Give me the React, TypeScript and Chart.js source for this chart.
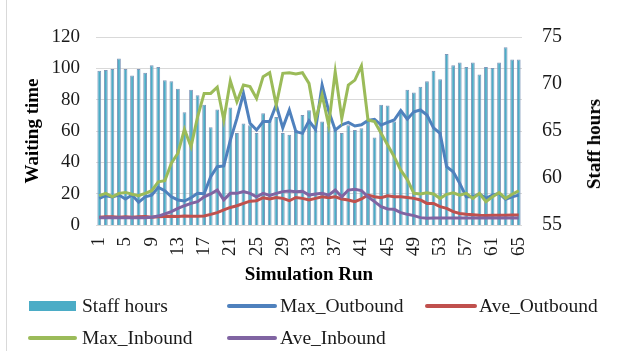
import React, { useEffect, useRef } from 'react';
import { Chart, registerables } from 'chart.js';

Chart.register(...registerables);

const runs = [
  '1', '2', '3', '4', '5', '6', '7', '8', '9', '10', '11', '12', '13', '14', '15', '16', '17', '18', '19', '20',
  '21', '22', '23', '24', '25', '26', '27', '28', '29', '30', '31', '32', '33', '34', '35', '36', '37', '38', '39', '40',
  '41', '42', '43', '44', '45', '46', '47', '48', '49', '50', '51', '52', '53', '54', '55', '56', '57', '58', '59', '60',
  '61', '62', '63', '64', '65',
];

const staffHours = [
  71.4, 71.5, 71.6, 72.7, 71.6, 70.9, 71.6, 71.2, 72.0, 71.8,
  70.4, 70.3, 69.5, 67.0, 69.4, 68.8, 67.8, 65.4, 67.3, 66.7,
  67.5, 64.8, 65.8, 65.6, 64.8, 66.9, 66.1, 66.5, 64.8, 64.6,
  65.1, 66.7, 67.2, 65.1, 66.0, 65.5, 65.1, 64.8, 65.6, 65.1,
  65.3, 66.2, 64.3, 67.8, 67.7, 66.0, 67.2, 69.4, 69.1, 69.7,
  70.3, 71.4, 70.5, 73.2, 72.0, 72.3, 71.8, 72.3, 71.0, 71.8,
  71.7, 72.3, 73.9, 72.6, 72.6,
];

const maxOutbound = [
  17, 18.7, 17.9, 19.1, 16.6, 19.1, 14.5, 18, 19.1, 24,
  21.9, 18, 16, 15.3, 17.4, 20.2, 20, 30.8, 37.2, 37.7,
  54.2, 68, 84, 64.9, 60.6, 66, 66, 76.6, 62, 73.4,
  59.6, 58.5, 66.5, 61, 89.3, 72.8, 60.6, 64, 65.5, 63.2,
  64, 66.7, 67.5, 63.8, 65.5, 67, 73, 67.5, 72.3, 73.4,
  70.2, 62, 58.5, 37.2, 34, 26.6, 18, 18, 19.8, 17,
  19.1, 20.2, 16.4, 18, 19.1,
];

const aveOutbound = [
  5, 5.3, 5.2, 5, 5.3, 5, 5.2, 5.4, 5, 5.3,
  5.5, 5.6, 5.4, 5.8, 5.6, 5.6, 5.8, 6.8, 7.9, 9.6,
  11.2, 12.3, 13.8, 15.2, 15.5, 17.4, 16.6, 17.6, 17, 15.5,
  17.6, 17, 16, 17, 18, 17.4, 18, 16.6, 16, 14.9,
  16.6, 19.1, 18, 17.4, 18.7, 18, 18, 17.6, 17, 16,
  13.8, 13.8, 11.7, 10.6, 8.5, 7.4, 6.8, 6.6, 6.2, 6,
  6.2, 6.2, 6.2, 6.4, 6.4,
];

const maxInbound = [
  18.7, 20.2, 18, 20.2, 20.8, 19.6, 18.7, 20.2, 21.9, 27.6,
  28.3, 39.4, 45.8, 61, 50, 69, 84, 84, 88, 67,
  92, 78.7, 89.3, 88.3, 80.8, 94.7, 97.2, 76.6, 96.8, 97.2,
  96.4, 97.2, 90.4, 67, 83, 63.8, 97.8, 68, 89.3, 92.5,
  101.5, 67, 66, 58.5, 51, 43.6, 35, 29, 20.2, 19.8,
  20.6, 19.8, 17, 19.6, 20.6, 19.1, 20.2, 17, 20.2, 14.9,
  18, 20.6, 17, 19.6, 21.9,
];

const aveInbound = [
  4.7, 4.7, 4.7, 4.7, 4.7, 4.7, 4.7, 4.7, 4.9, 5.7,
  7, 8.5, 10.6, 12.3, 13.8, 14.9, 18, 19.8, 22.3, 16,
  20.2, 20.2, 21.3, 20.2, 18, 20.2, 18.9, 20.2, 21.3, 21.7,
  21.3, 21.6, 19.1, 19.8, 20.2, 19.1, 22.3, 18, 22.3, 22.8,
  22, 18, 14.9, 11.7, 10.2, 10, 7.9, 6.8, 6, 4.7,
  4.3, 4.4, 4.5, 4.4, 4.5, 4.5, 4.4, 4.5, 4.5, 4.4,
  4.5, 4.5, 4.4, 4.5, 4.5,
];

const leftTicks = { min: 0, max: 120, step: 20 };
const rightTicks = { min: 55, max: 75, step: 5 };

const seriesNames = ['Staff hours', 'Max_Outbound', 'Ave_Outbound', 'Max_Inbound', 'Ave_Inbound'];
const seriesColors = ['#4BACC6', '#4F81BD', '#C0504D', '#9BBB59', '#8064A2'];

const FONT = "'Liberation Serif', 'Times New Roman', serif";
const TEXT = '#1a1a1a';

const legendItems = [
  { i: 0, x: 29, y: 306, lineW: 47, textX: 82 },
  { i: 1, x: 227, y: 306, lineW: 50, textX: 280 },
  { i: 2, x: 425, y: 306, lineW: 52, textX: 479 },
  { i: 3, x: 28, y: 338, lineW: 49, textX: 82 },
  { i: 4, x: 227, y: 338, lineW: 50, textX: 280 },
];

export default function App() {
  const ref = useRef<HTMLCanvasElement>(null);

  useEffect(() => {
    if (!ref.current) return;
    const lineDs = (idx: number, data: number[], order: number) => ({
      type: 'line' as const,
      label: seriesNames[idx],
      data,
      yAxisID: 'y',
      borderColor: seriesColors[idx],
      backgroundColor: seriesColors[idx],
      borderWidth: 3,
      pointRadius: 0,
      tension: 0,
      order,
    });
    const chart = new Chart(ref.current, {
      type: 'bar',
      data: {
        labels: runs,
        datasets: [
          {
            type: 'bar',
            label: seriesNames[0],
            data: staffHours,
            yAxisID: 'y1',
            backgroundColor: seriesColors[0],
            borderColor: '#7F97B9',
            borderWidth: 1,
            barPercentage: 0.58,
            categoryPercentage: 1,
            order: 5,
          } as any,
          lineDs(1, maxOutbound, 4),
          lineDs(2, aveOutbound, 3),
          lineDs(3, maxInbound, 2),
          lineDs(4, aveInbound, 1),
        ],
      },
      options: {
        responsive: false,
        animation: false,
        layout: { padding: { top: 37, left: 0, right: 0, bottom: 64 } },
        plugins: { legend: { display: false }, tooltip: { enabled: false } },
        scales: {
          x: {
            grid: { display: false, drawTicks: false },
            border: { display: false },
            ticks: {
              autoSkip: false,
              maxRotation: 90,
              minRotation: 90,
              padding: 12,
              color: TEXT,
              font: { family: FONT, size: 19 },
              callback: (_v: any, i: number) => (i % 4 === 0 ? runs[i] : ''),
            },
            title: {
              display: true,
              text: 'Simulation Run',
              color: '#000',
              font: { family: FONT, size: 19, weight: 'bold' },
              padding: { top: 0, bottom: 1 },
            },
            afterFit: (s: any) => { s.height = 62; },
          },
          y: {
            position: 'left',
            min: leftTicks.min,
            max: leftTicks.max,
            ticks: { stepSize: leftTicks.step, padding: 16, color: TEXT, font: { family: FONT, size: 19 } },
            grid: { color: '#d9d9d9', drawTicks: false },
            border: { display: false },
            title: {
              display: true,
              text: 'Waiting time',
              color: '#000',
              font: { family: FONT, size: 19, weight: 'bold' },
              padding: { top: 22, bottom: 0 },
            },
            afterFit: (s: any) => { s.width = 96; },
          },
          y1: {
            position: 'right',
            min: rightTicks.min,
            max: rightTicks.max,
            ticks: { stepSize: rightTicks.step, padding: 20, color: TEXT, font: { family: FONT, size: 20 } },
            grid: { display: false, drawTicks: false },
            border: { display: false },
            afterFit: (s: any) => { s.width = 102; },
          },
        },
      } as any,
    });
    return () => chart.destroy();
  }, []);

  return (
    <div style={{ position: 'absolute', left: 0, top: 0, width: 624, height: 351, background: '#fff', overflow: 'hidden' }}>
      <canvas ref={ref} width={624} height={351} style={{ position: 'absolute', left: 0, top: 0, width: 624, height: 351 }} />
      <div style={{ position: 'absolute', left: 6, top: 0, width: 1, height: 351, background: '#d9d9d9' }} />
      <div
        style={{
          position: 'absolute', left: 594, top: 144, transform: 'translate(-50%, -50%) rotate(-90deg)',
          whiteSpace: 'nowrap', fontFamily: FONT, fontWeight: 'bold', fontSize: 19, color: '#000', lineHeight: '22px',
        }}
      >
        Staff hours
      </div>
      {legendItems.map((it) => (
        <React.Fragment key={it.i}>
          <div
            style={{
              position: 'absolute', left: it.x,
              top: it.i === 0 ? it.y - 5 : it.y - 2,
              width: it.lineW, height: it.i === 0 ? 10 : 4,
              background: seriesColors[it.i], borderRadius: it.i === 0 ? 0 : 2,
            }}
          />
          <div
            style={{
              position: 'absolute', left: it.textX, top: it.y - 12, height: 24, lineHeight: '24px',
              whiteSpace: 'nowrap', fontFamily: FONT, fontSize: 19.5, color: TEXT,
            }}
          >
            {seriesNames[it.i]}
          </div>
        </React.Fragment>
      ))}
    </div>
  );
}
